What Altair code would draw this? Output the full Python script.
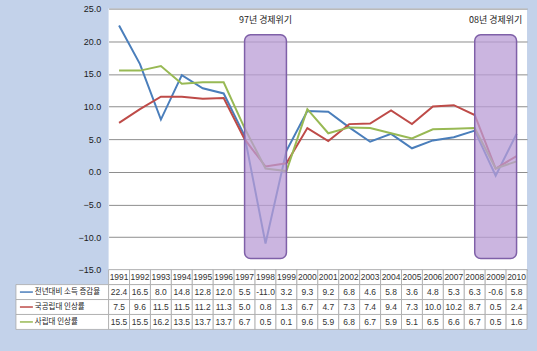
import altair as alt
import pandas as pd

years = [str(y) for y in range(1991, 2011)]
series_names = ["전년대비 소득 증감율", "국공립대 인상률", "사립대 인상률"]
income = [22.4, 16.5, 8.0, 14.8, 12.8, 12.0, 5.5, -11.0, 3.2, 9.3, 9.2, 6.8, 4.6, 5.8, 3.6, 4.8, 5.3, 6.3, -0.6, 5.8]
national = [7.5, 9.6, 11.5, 11.5, 11.2, 11.3, 5.0, 0.8, 1.3, 6.7, 4.7, 7.3, 7.4, 9.4, 7.3, 10.0, 10.2, 8.7, 0.5, 2.4]
private = [15.5, 15.5, 16.2, 13.5, 13.7, 13.7, 6.7, 0.5, 0.1, 9.6, 5.9, 6.8, 6.7, 5.9, 5.1, 6.5, 6.6, 6.7, 0.5, 1.6]
colors = ["#4A7EBB", "#BE4B48", "#98B954"]

crisis_start = ["1997", "2008"]
crisis_end = ["1999", "2010"]
crisis_mid = ["1998", "2009"]
crisis_labels = ["97년 경제위기", "08년 경제위기"]
crisis_top = [21.0, 21.0]
crisis_bottom = [-13.3, -13.3]
crisis_label_y = [23.3, 23.3]

y_ticks = [-15, -10, -5, 0, 5, 10, 15, 20, 25]

rows = []
for name, vals in zip(series_names, [income, national, private]):
    for yr, v in zip(years, vals):
        rows.append({"year": yr, "series": name, "value": v})
df = pd.DataFrame(rows)

crisis_df = pd.DataFrame({
    "start": crisis_start, "end": crisis_end, "mid": crisis_mid,
    "label": crisis_labels, "top": crisis_top, "bottom": crisis_bottom,
    "ly": crisis_label_y,
})

KR = "Noto Sans CJK KR"
NUM = "Liberation Sans"

xscale = alt.Scale(domain=years, type="point", padding=0.5)
yscale = alt.Scale(domain=[-15, 25], nice=False, zero=False)
cscale = alt.Scale(domain=series_names, range=colors)

yaxis = alt.Axis(values=y_ticks, format=".1f", title=None, grid=True,
                 gridColor="#8E8E8E", gridWidth=1, domain=False, ticks=False,
                 labelPadding=8, labelFontSize=9, labelFont=NUM,
                 labelColor="#1A1A1A", labelOverlap=False)

lines = alt.Chart(df).mark_line(strokeWidth=2).encode(
    x=alt.X("year:O", scale=xscale, axis=None),
    y=alt.Y("value:Q", scale=yscale, axis=yaxis),
    color=alt.Color("series:N", scale=cscale, legend=None),
    detail="series:N",
)

rects = alt.Chart(crisis_df).mark_rect(
    cornerRadius=6, fill="#B99CD6", fillOpacity=0.75, stroke="#7F60A8", strokeWidth=1.5
).encode(
    x=alt.X("start:O", scale=xscale, axis=None),
    x2="end:O",
    y=alt.Y("top:Q", scale=yscale, axis=yaxis),
    y2="bottom:Q",
)

labels = alt.Chart(crisis_df).mark_text(font=KR, fontSize=9, color="#1A1A1A").encode(
    x=alt.X("mid:O", scale=xscale, axis=None),
    y=alt.Y("ly:Q", scale=yscale, axis=yaxis),
    text="label:N",
)

line_chart = alt.layer(lines, rects, labels).properties(
    width=420, height=262, view=alt.ViewBackground(fill="white", stroke=None)
)

row_domain = ["header"] + series_names
tdf = df.copy()
tdf["row"] = tdf["series"]
tdf["txt"] = tdf["value"].map(lambda v: f"{v:.1f}")
hdr = pd.DataFrame({"year": years, "row": ["header"] * len(years), "txt": years})
table_df = pd.concat([hdr, tdf[["year", "row", "txt"]]], ignore_index=True)

tx = alt.X("year:O", scale=alt.Scale(domain=years, paddingInner=0, paddingOuter=0), axis=None)
ty = alt.Y("row:N", scale=alt.Scale(domain=row_domain, paddingInner=0, paddingOuter=0), axis=None)

table_cells = alt.Chart(table_df).mark_rect(fill="white", stroke="#A8A8A8", strokeWidth=0.8).encode(
    x=tx, y=ty)
table_text = alt.Chart(table_df).mark_text(font=NUM, fontSize=8.5, color="#333333").encode(
    x=tx, y=ty, text="txt:N")
table_chart = alt.layer(table_cells, table_text).properties(width=420, height=60)

lab_df = pd.DataFrame({"row": series_names, "series": series_names})
lab_cells = alt.Chart(lab_df).mark_rect(fill="white", stroke="#A8A8A8", strokeWidth=0.8).encode(
    y=ty)
lab_lines = alt.Chart(lab_df).mark_rule(strokeWidth=1.5).encode(
    x=alt.value(4), x2=alt.value(17), y=ty,
    color=alt.Color("series:N", scale=cscale, legend=None))
lab_text = alt.Chart(lab_df).mark_text(font=KR, fontSize=7.5, align="left", color="#1A1A1A").encode(
    x=alt.value(19), y=ty, text="series:N")
label_chart = alt.layer(lab_cells, lab_lines, lab_text).properties(width=93, height=60)

placeholder = alt.Chart(pd.DataFrame({"a": [0]})).mark_point(opacity=0).properties(width=93, height=262)

chart = alt.concat(
    placeholder, line_chart, label_chart, table_chart,
    columns=2, spacing=0, bounds="flush",
).properties(
    background="#C3D2EA",
    padding={"left": 15, "top": 4, "right": 9, "bottom": 20},
).configure_view(stroke=None)

chart.save("out.html", embed_options={"renderer": "svg", "actions": False})
